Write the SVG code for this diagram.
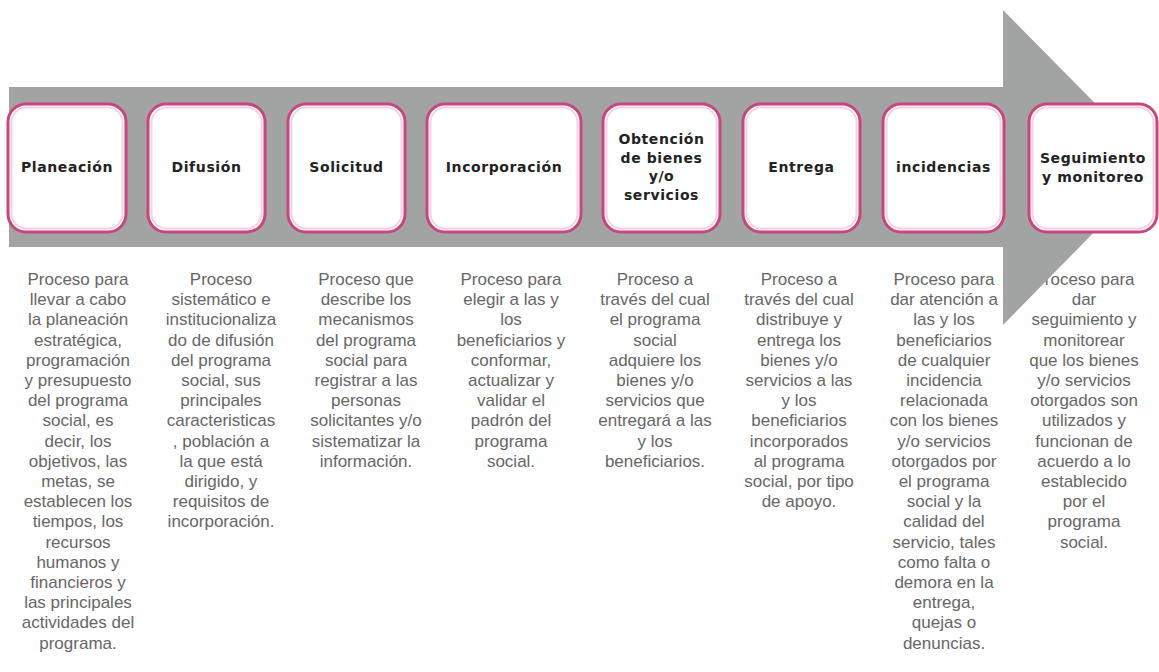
<svg xmlns="http://www.w3.org/2000/svg" width="1159" height="672" viewBox="0 0 1159 672">
<style>
.desc{font-family:"Liberation Sans",Arial,sans-serif;font-size:17px;fill:#666;text-anchor:middle}
.lbl{font-family:"DejaVu Sans",Verdana,sans-serif;font-weight:bold;font-size:14px;letter-spacing:0.6px;fill:#222;text-anchor:middle}
.box{fill:#fff;stroke:#c9457e;stroke-width:3}
.inner{fill:none;stroke:#f8d2e2;stroke-width:2}
.arrow{fill:#a2a4a4}
</style>
<rect width="1159" height="672" fill="#fff"/>
<g id="descriptions">
<g id="desc-planeacion"><text class="desc" x="78" y="285"><tspan x="78" dy="0">Proceso para</tspan><tspan x="78" dy="20.2">llevar a cabo</tspan><tspan x="78" dy="20.2">la planeación</tspan><tspan x="78" dy="20.2">estratégica,</tspan><tspan x="78" dy="20.2">programación</tspan><tspan x="78" dy="20.2">y presupuesto</tspan><tspan x="78" dy="20.2">del programa</tspan><tspan x="78" dy="20.2">social, es</tspan><tspan x="78" dy="20.2">decir, los</tspan><tspan x="78" dy="20.2">objetivos, las</tspan><tspan x="78" dy="20.2">metas, se</tspan><tspan x="78" dy="20.2">establecen los</tspan><tspan x="78" dy="20.2">tiempos, los</tspan><tspan x="78" dy="20.2">recursos</tspan><tspan x="78" dy="20.2">humanos y</tspan><tspan x="78" dy="20.2">financieros y</tspan><tspan x="78" dy="20.2">las principales</tspan><tspan x="78" dy="20.2">actividades del</tspan><tspan x="78" dy="20.2">programa.</tspan></text></g>
<g id="desc-difusion"><text class="desc" x="221" y="285"><tspan x="221" dy="0">Proceso</tspan><tspan x="221" dy="20.2">sistemático e</tspan><tspan x="221" dy="20.2">institucionaliza</tspan><tspan x="221" dy="20.2">do de difusión</tspan><tspan x="221" dy="20.2">del programa</tspan><tspan x="221" dy="20.2">social, sus</tspan><tspan x="221" dy="20.2">principales</tspan><tspan x="221" dy="20.2">caracteristicas</tspan><tspan x="221" dy="20.2">, población a</tspan><tspan x="221" dy="20.2">la que está</tspan><tspan x="221" dy="20.2">dirigido, y</tspan><tspan x="221" dy="20.2">requisitos de</tspan><tspan x="221" dy="20.2">incorporación.</tspan></text></g>
<g id="desc-solicitud"><text class="desc" x="366" y="285"><tspan x="366" dy="0">Proceso que</tspan><tspan x="366" dy="20.2">describe los</tspan><tspan x="366" dy="20.2">mecanismos</tspan><tspan x="366" dy="20.2">del programa</tspan><tspan x="366" dy="20.2">social para</tspan><tspan x="366" dy="20.2">registrar a las</tspan><tspan x="366" dy="20.2">personas</tspan><tspan x="366" dy="20.2">solicitantes y/o</tspan><tspan x="366" dy="20.2">sistematizar la</tspan><tspan x="366" dy="20.2">información.</tspan></text></g>
<g id="desc-incorporacion"><text class="desc" x="511" y="285"><tspan x="511" dy="0">Proceso para</tspan><tspan x="511" dy="20.2">elegir a las y</tspan><tspan x="511" dy="20.2">los</tspan><tspan x="511" dy="20.2">beneficiarios y</tspan><tspan x="511" dy="20.2">conformar,</tspan><tspan x="511" dy="20.2">actualizar y</tspan><tspan x="511" dy="20.2">validar el</tspan><tspan x="511" dy="20.2">padrón del</tspan><tspan x="511" dy="20.2">programa</tspan><tspan x="511" dy="20.2">social.</tspan></text></g>
<g id="desc-obtencion"><text class="desc" x="655" y="285"><tspan x="655" dy="0">Proceso a</tspan><tspan x="655" dy="20.2">través del cual</tspan><tspan x="655" dy="20.2">el programa</tspan><tspan x="655" dy="20.2">social</tspan><tspan x="655" dy="20.2">adquiere los</tspan><tspan x="655" dy="20.2">bienes y/o</tspan><tspan x="655" dy="20.2">servicios que</tspan><tspan x="655" dy="20.2">entregará a las</tspan><tspan x="655" dy="20.2">y los</tspan><tspan x="655" dy="20.2">beneficiarios.</tspan></text></g>
<g id="desc-entrega"><text class="desc" x="799" y="285"><tspan x="799" dy="0">Proceso a</tspan><tspan x="799" dy="20.2">través del cual</tspan><tspan x="799" dy="20.2">distribuye y</tspan><tspan x="799" dy="20.2">entrega los</tspan><tspan x="799" dy="20.2">bienes y/o</tspan><tspan x="799" dy="20.2">servicios a las</tspan><tspan x="799" dy="20.2">y los</tspan><tspan x="799" dy="20.2">beneficiarios</tspan><tspan x="799" dy="20.2">incorporados</tspan><tspan x="799" dy="20.2">al programa</tspan><tspan x="799" dy="20.2">social, por tipo</tspan><tspan x="799" dy="20.2">de apoyo.</tspan></text></g>
<g id="desc-incidencias"><text class="desc" x="944" y="285"><tspan x="944" dy="0">Proceso para</tspan><tspan x="944" dy="20.2">dar atención a</tspan><tspan x="944" dy="20.2">las y los</tspan><tspan x="944" dy="20.2">beneficiarios</tspan><tspan x="944" dy="20.2">de cualquier</tspan><tspan x="944" dy="20.2">incidencia</tspan><tspan x="944" dy="20.2">relacionada</tspan><tspan x="944" dy="20.2">con los bienes</tspan><tspan x="944" dy="20.2">y/o servicios</tspan><tspan x="944" dy="20.2">otorgados por</tspan><tspan x="944" dy="20.2">el programa</tspan><tspan x="944" dy="20.2">social y la</tspan><tspan x="944" dy="20.2">calidad del</tspan><tspan x="944" dy="20.2">servicio, tales</tspan><tspan x="944" dy="20.2">como falta o</tspan><tspan x="944" dy="20.2">demora en la</tspan><tspan x="944" dy="20.2">entrega,</tspan><tspan x="944" dy="20.2">quejas o</tspan><tspan x="944" dy="20.2">denuncias.</tspan></text></g>
<g id="desc-seguimiento"><text class="desc" x="1084" y="285"><tspan x="1084" dy="0">Proceso para</tspan><tspan x="1084" dy="20.2">dar</tspan><tspan x="1084" dy="20.2">seguimiento y</tspan><tspan x="1084" dy="20.2">monitorear</tspan><tspan x="1084" dy="20.2">que los bienes</tspan><tspan x="1084" dy="20.2">y/o servicios</tspan><tspan x="1084" dy="20.2">otorgados son</tspan><tspan x="1084" dy="20.2">utilizados y</tspan><tspan x="1084" dy="20.2">funcionan de</tspan><tspan x="1084" dy="20.2">acuerdo a lo</tspan><tspan x="1084" dy="20.2">establecido</tspan><tspan x="1084" dy="20.2">por el</tspan><tspan x="1084" dy="20.2">programa</tspan><tspan x="1084" dy="20.2">social.</tspan></text></g>
</g>
<g id="connectors">
<polygon class="arrow" points="9,87 1003,87 1003,10 1158,167 1003,325 1003,247 9,247"/>
</g>
<g id="node-planeacion"><rect class="box" x="8" y="104" width="118" height="128" rx="18"/><rect class="inner" x="11.5" y="107.5" width="111" height="121" rx="15"/><text class="lbl" x="67" y="172">Planeación</text></g>
<g id="node-difusion"><rect class="box" x="148" y="104" width="117" height="128" rx="18"/><rect class="inner" x="151.5" y="107.5" width="110" height="121" rx="15"/><text class="lbl" x="206.5" y="172">Difusión</text></g>
<g id="node-solicitud"><rect class="box" x="288" y="104" width="117" height="128" rx="18"/><rect class="inner" x="291.5" y="107.5" width="110" height="121" rx="15"/><text class="lbl" x="346.5" y="172">Solicitud</text></g>
<g id="node-incorporacion"><rect class="box" x="427" y="104" width="154" height="128" rx="18"/><rect class="inner" x="430.5" y="107.5" width="147" height="121" rx="15"/><text class="lbl" x="504" y="172">Incorporación</text></g>
<g id="node-obtencion"><rect class="box" x="603" y="104" width="117" height="128" rx="18"/><rect class="inner" x="606.5" y="107.5" width="110" height="121" rx="15"/><text class="lbl" x="661.5" y="144"><tspan x="661.5" dy="0">Obtención</tspan><tspan x="661.5" dy="18.6">de bienes</tspan><tspan x="661.5" dy="18.6">y/o</tspan><tspan x="661.5" dy="18.6">servicios</tspan></text></g>
<g id="node-entrega"><rect class="box" x="743" y="104" width="117" height="128" rx="18"/><rect class="inner" x="746.5" y="107.5" width="110" height="121" rx="15"/><text class="lbl" x="801.5" y="172">Entrega</text></g>
<g id="node-incidencias"><rect class="box" x="883" y="104" width="121" height="128" rx="18"/><rect class="inner" x="886.5" y="107.5" width="114" height="121" rx="15"/><text class="lbl" x="943.5" y="172">incidencias</text></g>
<g id="node-seguimiento"><rect class="box" x="1029" y="104" width="128" height="128" rx="18"/><rect class="inner" x="1032.5" y="107.5" width="121" height="121" rx="15"/><text class="lbl" x="1093" y="163"><tspan x="1093" dy="0">Seguimiento</tspan><tspan x="1093" dy="18.6">y monitoreo</tspan></text></g>
</svg>
